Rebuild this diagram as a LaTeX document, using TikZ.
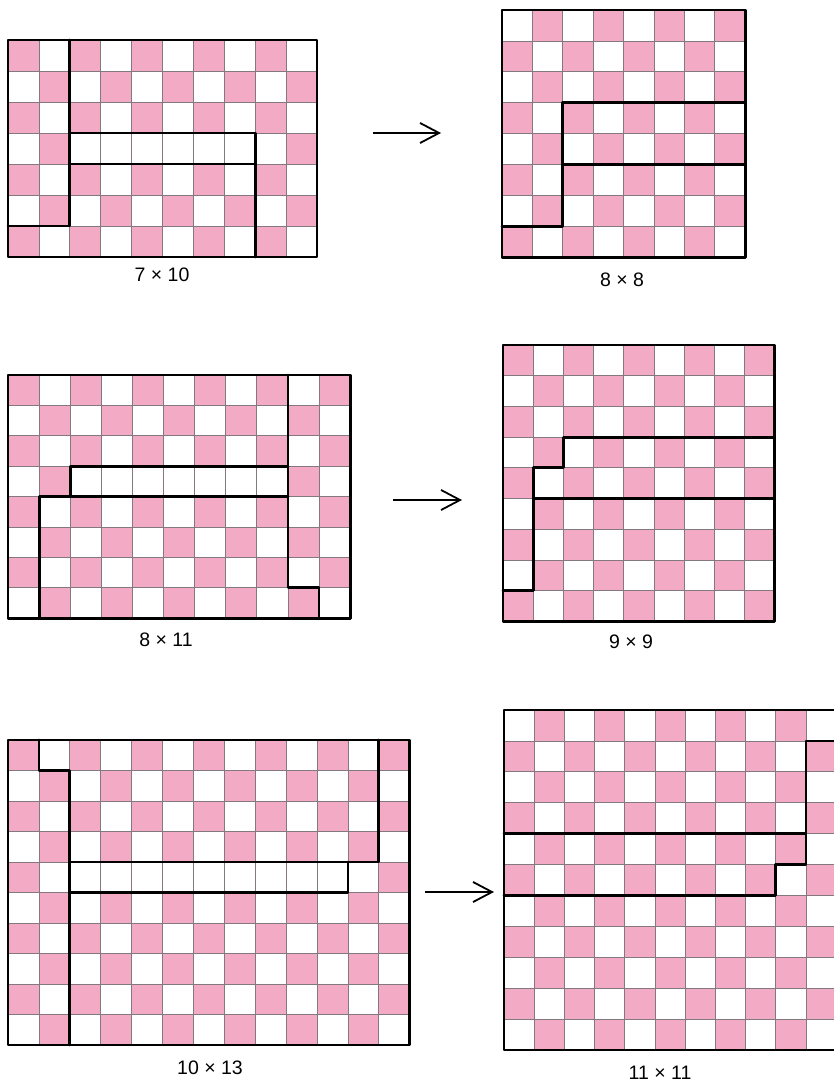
\documentclass[tikz,border=0pt]{standalone}
\usepackage{fontspec}
\setmainfont{Liberation Sans}
\usetikzlibrary{arrows.meta}
\definecolor{pinkcell}{RGB}{242,170,197}
\definecolor{gridc}{RGB}{130,120,125}
\tikzset{
  pinkfill/.style={fill=pinkcell},
  gridline/.style={draw=gridc,line width=0.7pt},
  edge/.style={draw=black,line width=2.8pt,line cap=round,line join=round},
  lab/.style={font=\fontsize{19.5}{22}\selectfont,inner sep=0pt},
  arr/.style={line width=1.8pt,-{Straight Barb[length=19pt,width=20pt]}}
}
% #1 = cols-1, #2 = rows-1, #3 = 0 (top-left pink) or 1 (top-left white)
\newcommand{\boardcells}[3]{%
  \foreach \c in {0,...,#1}{\foreach \r in {0,...,#2}{%
    \pgfmathtruncatemacro{\s}{\c+\r+#3}%
    \ifodd\s\else\fill[pinkfill] (\c,\r) rectangle ++(1,1);\fi}}}
% #1 = cols, #2 = rows
\newcommand{\boardgrid}[2]{%
  \foreach \i in {1,...,#1}{\draw[gridline] (\i,0) -- (\i,#2);}%
  \foreach \j in {1,...,#2}{\draw[gridline] (0,\j) -- (#1,\j);}}
\begin{document}
\begin{tikzpicture}[x=1pt,y=-1pt]
\useasboundingbox (0,0) rectangle (833,1084);
\fill[white] (0,0) rectangle (833,1084);

% ---------- Panel 1: 7 x 10 ----------
\begin{scope}[shift={(8,40)},x=30.9pt,y=-31pt]
  \boardcells{9}{6}{0}
  \fill[white] (2,3) rectangle (8,4);
  \boardgrid{10}{7}
  \draw[edge] (0,0) rectangle (10,7);
  \draw[edge] (2,0) -- (2,6) -- (0,6);
  \draw[edge] (2,3) -- (8,3) -- (8,7);
  \draw[edge] (2,4) -- (8,4);
\end{scope}
\node[lab] (l1) at (162,275) {7 × 10};

% ---------- Panel 2: 8 x 8 ----------
\begin{scope}[shift={(502,10)},x=30.4pt,y=-30.9pt]
  \boardcells{7}{7}{1}
  \boardgrid{8}{8}
  \draw[edge] (0,0) rectangle (8,8);
  \draw[edge] (8,3) -- (2,3) -- (2,7) -- (0,7);
  \draw[edge] (2,5) -- (8,5);
\end{scope}
\node[lab] (l2) at (622,280) {8 × 8};

\coordinate (a1s) at (373,133);
\coordinate (a1e) at (441,133);
\draw[arr] (a1s) -- (a1e);

% ---------- Panel 3: 8 x 11 ----------
\begin{scope}[shift={(8,375)},x=31.1pt,y=-30.4pt]
  \boardcells{10}{7}{0}
  \fill[white] (2,3) rectangle (9,4);
  \boardgrid{11}{8}
  \draw[edge] (0,0) rectangle (11,8);
  \draw[edge] (9,0) -- (9,7) -- (10,7) -- (10,8);
  \draw[edge] (9,3) -- (2,3) -- (2,4);
  \draw[edge] (1,8) -- (1,4) -- (9,4);
\end{scope}
\node[lab] (l3) at (166,640) {8 × 11};

% ---------- Panel 4: 9 x 9 ----------
\begin{scope}[shift={(503,345)},x=30.2pt,y=-30.7pt]
  \boardcells{8}{8}{0}
  \boardgrid{9}{9}
  \draw[edge] (0,0) rectangle (9,9);
  \draw[edge] (9,3) -- (2,3) -- (2,4) -- (1,4) -- (1,8) -- (0,8);
  \draw[edge] (1,5) -- (9,5);
\end{scope}
\node[lab] (l4) at (631,642) {9 × 9};

\coordinate (a2s) at (393,500);
\coordinate (a2e) at (462,500);
\draw[arr] (a2s) -- (a2e);

% ---------- Panel 5: 10 x 13 ----------
\begin{scope}[shift={(8,740)},x=30.9pt,y=-30.5pt]
  \boardcells{12}{9}{0}
  \fill[white] (2,4) rectangle (11,5);
  \boardgrid{13}{10}
  \draw[edge] (0,0) rectangle (13,10);
  \draw[edge] (1,0) -- (1,1) -- (2,1) -- (2,10);
  \draw[edge] (2,4) -- (12,4) -- (12,0);
  \draw[edge] (2,5) -- (11,5) -- (11,4);
\end{scope}
\node[lab] (l5) at (210,1068) {10 × 13};

% ---------- Panel 6: 11 x 11 ----------
\begin{scope}[shift={(504,710)},x=30.2pt,y=-30.9pt]
  \boardcells{10}{10}{1}
  \boardgrid{11}{11}
  \draw[edge] (0,0) rectangle (11,11);
  \draw[edge] (0,4) -- (10,4) -- (10,1) -- (11,1);
  \draw[edge] (0,6) -- (9,6) -- (9,5) -- (10,5) -- (10,4);
\end{scope}
\node[lab] (l6) at (660,1073) {11 × 11};

\coordinate (a3s) at (425,892);
\coordinate (a3e) at (494,892);
\draw[arr] (a3s) -- (a3e);
\end{tikzpicture}
\end{document}
